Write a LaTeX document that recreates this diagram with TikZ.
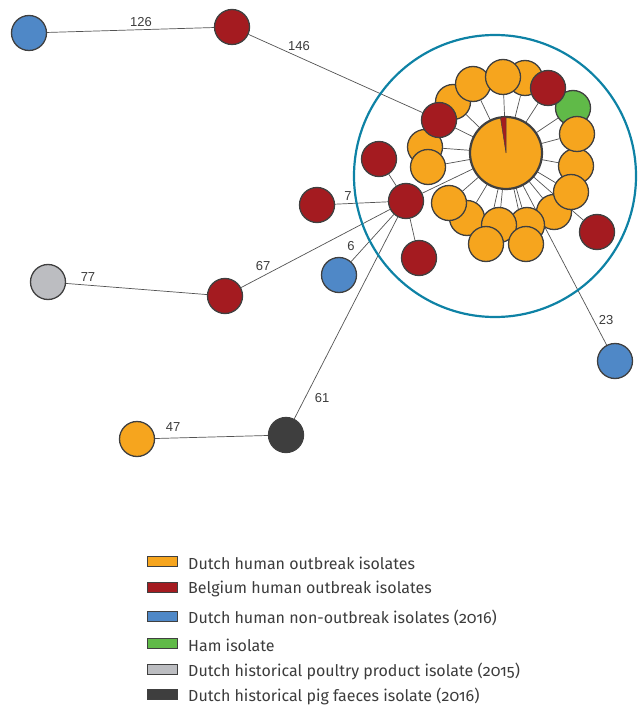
\documentclass[tikz,border=0pt]{standalone}
\usepackage{fontspec}
\setmainfont{Fira Sans}[Numbers=OldStyle]
\newfontfamily\edgefont{Liberation Sans}
\usetikzlibrary{backgrounds}
\definecolor{isoorange}{RGB}{246,165,30}
\definecolor{isored}{RGB}{164,27,32}
\definecolor{isoblue}{RGB}{79,136,199}
\definecolor{isogreen}{RGB}{96,186,72}
\definecolor{isogray}{RGB}{188,189,193}
\definecolor{isodark}{RGB}{62,62,62}
\definecolor{isoteal}{RGB}{14,130,165}
\definecolor{isostroke}{RGB}{64,64,64}
\definecolor{isotext}{RGB}{60,60,60}
\tikzset{iso/.style={
            draw=isostroke,
            circle,
            line width=1.3pt,
            inner sep=0pt,
            minimum size=35pt
        },
        orange/.style={iso, fill=isoorange},
        red/.style={iso, fill=isored},
        blue/.style={iso, fill=isoblue},
        green/.style={iso, fill=isogreen},
        gray/.style={iso, fill=isogray},
        dark/.style={iso, fill=isodark},
        link/.style={
            draw=isostroke!90,
            line width=0.7pt
        },
        dist/.style={
            font=\edgefont\fontsize{13}{13}\selectfont,
            text=isotext,
            inner sep=0pt
        },
        legbox/.style={
            draw=isostroke,
            line width=0.8pt,
            minimum width=30pt,
            minimum height=10pt,
            inner sep=0pt
        },
        legtext/.style={
            anchor=west,
            inner sep=0pt,
            text=isotext,
            font=\fontsize{16}{16}\selectfont
        }
    }

\begin{document}
\begin{tikzpicture}[x=1pt,y=-1pt]
        \useasboundingbox (0,0) rectangle (638,711);

        % outlying isolates
        \node[blue] (bluetop) at (29,33) {};
        \node[red] (redtop) at (232,27) {};
        \node[gray] (poultry) at (48,282) {};
        \node[red] (red67) at (225,296) {};
        \node[blue] (blue6) at (339,275) {};
        \node[red] (red7) at (317,205) {};
        \node[dark] (pig) at (286,435) {};
        \node[orange] (orange47) at (137,439) {};
        \node[blue] (blue23) at (615,361) {};

        % cluster
        \node[draw=isoteal,line width=2.2pt,circle,minimum size=282pt,inner sep=0pt] (ring) at (495,176) {};
        \node[iso,fill=isoorange,minimum size=72pt,line width=2.2pt] (hub) at (506,153) {};
        \fill[isored,draw=isostroke,line width=0.5pt] (hub.center) -- (500.4,117.4) -- (506,117) -- cycle;

        \node[red] (redc) at (406,201) {};
        \node[red] (redup) at (379,159) {};
        \node[red] (redlow) at (419,258) {};
        \node[red] (redright) at (597,232) {};

        \node[orange] (o1) at (453,102) {};
        \node[orange] (o2) at (525,78) {};
        \node[orange] (o3) at (473,84) {};
        \node[orange] (o4) at (503,77) {};
        \node[green] (ham) at (573,108) {};
        \node[red] (r1) at (548,88) {};
        \node[orange] (o5) at (576,166) {};
        \node[orange] (o6) at (577,134) {};
        \node[orange] (o7) at (554,212) {};
        \node[orange] (o8) at (571,192) {};
        \node[orange] (o9) at (527,225) {};
        \node[orange] (o10) at (467,218) {};
        \node[orange] (o11) at (449,203) {};
        \node[orange] (o12) at (499,225) {};
        \node[orange] (o13) at (486,244) {};
        \node[orange] (o14) at (526,244) {};
        \node[orange] (o15) at (425,147) {};
        \node[orange] (o16) at (428,167) {};
        \node[red] (r2) at (439,120) {};

        \begin{scope}[on background layer]
            \foreach \n in {o1,o2,o3,o4,ham,r1,o5,o6,o7,o8,o9,o10,o11,o12,o13,o14,o15,o16,r2,redc,redright,blue23}
                \draw[link] (hub.center) -- (\n);
            \draw[link] (bluetop) -- (redtop);
            \draw[link] (redtop) -- (r2);
            \draw[link] (redc) -- (redup);
            \draw[link] (redc) -- (redlow);
            \draw[link] (redc) -- (red7);
            \draw[link] (redc) -- (red67);
            \draw[link] (redc) -- (blue6);
            \draw[link] (redc) -- (pig);
            \draw[link] (red67) -- (poultry);
            \draw[link] (pig) -- (orange47);
        \end{scope}

        \node[dist] (d126) at (141,22) {126};
        \node[dist] (d146) at (299,46) {146};
        \node[dist] (d7) at (348,196) {7};
        \node[dist] (d6) at (351,246) {6};
        \node[dist] (d67) at (263,266) {67};
        \node[dist] (d77) at (88,277) {77};
        \node[dist] (d61) at (322,398) {61};
        \node[dist] (d47) at (173,427) {47};
        \node[dist] (d23) at (606,320) {23};

        % legend
        \node[legbox,fill=isoorange] (k1) at (162,561) {};
        \node[legbox,fill=isored] (k2) at (162,587) {};
        \node[legbox,fill=isoblue] (k3) at (162,616) {};
        \node[legbox,fill=isogreen] (k4) at (162,643) {};
        \node[legbox,fill=isogray] (k5) at (162,669) {};
        \node[legbox,fill=isodark] (k6) at (162,694) {};
        \node[legtext] (t1) at (188,563) {Dutch human outbreak isolates};
        \node[legtext] (t2) at (188,589) {Belgium human outbreak isolates};
        \node[legtext] (t3) at (188,618) {Dutch human non-outbreak isolates (2016)};
        \node[legtext] (t4) at (188,645) {Ham isolate};
        \node[legtext] (t5) at (188,671) {Dutch historical poultry product isolate (2015)};
        \node[legtext] (t6) at (188,696) {Dutch historical pig faeces isolate (2016)};

    \end{tikzpicture}
\end{document}
